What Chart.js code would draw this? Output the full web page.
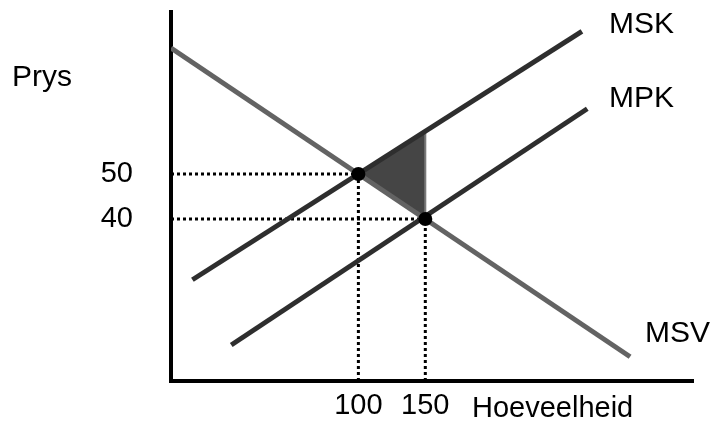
<!DOCTYPE html>
<html>
<head>
<meta charset="utf-8">
<script src="https://cdn.jsdelivr.net/npm/chart.js@4.4.1/dist/chart.umd.min.js"></script>
<style>
  html, body { margin: 0; padding: 0; background: #fff; }
  #wrap { width: 718px; height: 434px; position: relative; }
</style>
</head>
<body>
<div id="wrap"><canvas id="externality-chart"></canvas></div>
<script>
// axis range and ticks
var quantityMin = -40, quantityMax = 350;
var priceMin = 4, priceMax = 86;
var quantityTicks = [100, 150];
var priceTicks = [40, 50];

// curves (quantity, price)
var msvX = [-40, 303];
var msvY = [78, 9.4];
var mskX = [-24, 267];
var mskY = [26.5, 81.7];
var mpkX = [5, 271];
var mpkY = [12, 64.5];

// equilibria: social optimum (100, 50) and market (150, 40)
var eqX = [100, 150];
var eqY = [50, 40];

// welfare loss triangle
var lossX = [100, 150, 150, 100];
var lossY = [50, 59.5, 40, 50];

function pts(xs, ys) {
    return xs.map(function (x, i) { return { x: x, y: ys[i] }; });
}

var fontFamily = '"Liberation Sans", Arial, sans-serif';

// higher order = drawn further back
var datasets = [];

datasets.push({
    type: 'line',
    order: 4,
    data: pts(lossX, lossY),
    borderColor: '#7a7a7a',
    borderWidth: 2,
    backgroundColor: '#454545',
    fill: 'shape',
    pointRadius: 0,
    tension: 0
});

// dotted guides from the axes to each equilibrium
eqX.forEach(function (x, i) {
    var guide = {
        type: 'line',
        order: 3,
        borderColor: '#000',
        borderWidth: 3,
        borderDash: [3, 3],
        pointRadius: 0,
        fill: false
    };
    datasets.push(Object.assign({ data: pts([quantityMin, x], [eqY[i], eqY[i]]) }, guide));
    datasets.push(Object.assign({ data: pts([x, x], [priceMin, eqY[i]]) }, guide));
});

datasets.push({ type: 'line', order: 2, data: pts(msvX, msvY), borderColor: '#636363', borderWidth: 5, pointRadius: 0, fill: false });
datasets.push({ type: 'line', order: 1, data: pts(mskX, mskY), borderColor: '#2e2e2e', borderWidth: 5, pointRadius: 0, fill: false });
datasets.push({ type: 'line', order: 1, data: pts(mpkX, mpkY), borderColor: '#2e2e2e', borderWidth: 5, pointRadius: 0, fill: false });

datasets.push({
    type: 'scatter',
    order: 0,
    data: pts(eqX, eqY),
    pointRadius: 7,
    backgroundColor: '#000',
    borderColor: '#000',
    borderWidth: 0
});

var labelsPlugin = {
    id: 'curveLabels',
    afterDraw: function (chart) {
        var ctx = chart.ctx;
        ctx.save();
        ctx.fillStyle = '#000';
        ctx.font = '30px ' + fontFamily;
        ctx.textBaseline = 'alphabetic';
        ctx.textAlign = 'left';
        ctx.fillText('Prys', 12, 86);
        ctx.fillText('MSK', 609, 33);
        ctx.fillText('MPK', 609, 107);
        ctx.fillText('MSV', 645, 342);
        ctx.font = '29px ' + fontFamily;
        ctx.fillText('Hoeveelheid', 472, 417);
        ctx.restore();
    }
};

function noPadding(scale) {
    scale.paddingTop = 0;
    scale.paddingBottom = 0;
    scale.paddingLeft = 0;
    scale.paddingRight = 0;
}

var config = {
    type: 'scatter',
    data: { datasets: datasets },
    options: {
        responsive: true,
        maintainAspectRatio: false,
        animation: false,
        events: [],
        layout: { padding: { left: 0, top: 12, right: 25, bottom: 0 } },
        plugins: {
            legend: { display: false },
            tooltip: { enabled: false }
        },
        scales: {
            x: {
                type: 'linear',
                min: quantityMin,
                max: quantityMax,
                grid: { display: false, drawTicks: false },
                border: { display: true, color: '#000', width: 4 },
                afterBuildTicks: function (scale) {
                    scale.ticks = quantityTicks.map(function (v) { return { value: v }; });
                },
                afterFit: function (scale) { scale.height = 53; noPadding(scale); },
                ticks: {
                    padding: 8,
                    color: '#000',
                    font: { family: fontFamily, size: 29 }
                }
            },
            y: {
                type: 'linear',
                min: priceMin,
                max: priceMax,
                grid: { display: false, drawTicks: false },
                border: { display: true, color: '#000', width: 4 },
                afterBuildTicks: function (scale) {
                    scale.ticks = priceTicks.map(function (v) { return { value: v }; });
                },
                afterFit: function (scale) { scale.width = 171; noPadding(scale); },
                ticks: {
                    padding: 38,
                    color: '#000',
                    font: { family: fontFamily, size: 29 }
                }
            }
        }
    },
    plugins: [labelsPlugin]
};

var ctx = document.getElementById('externality-chart').getContext('2d');
window.myChart = new Chart(ctx, config);
</script>
</body>
</html>
